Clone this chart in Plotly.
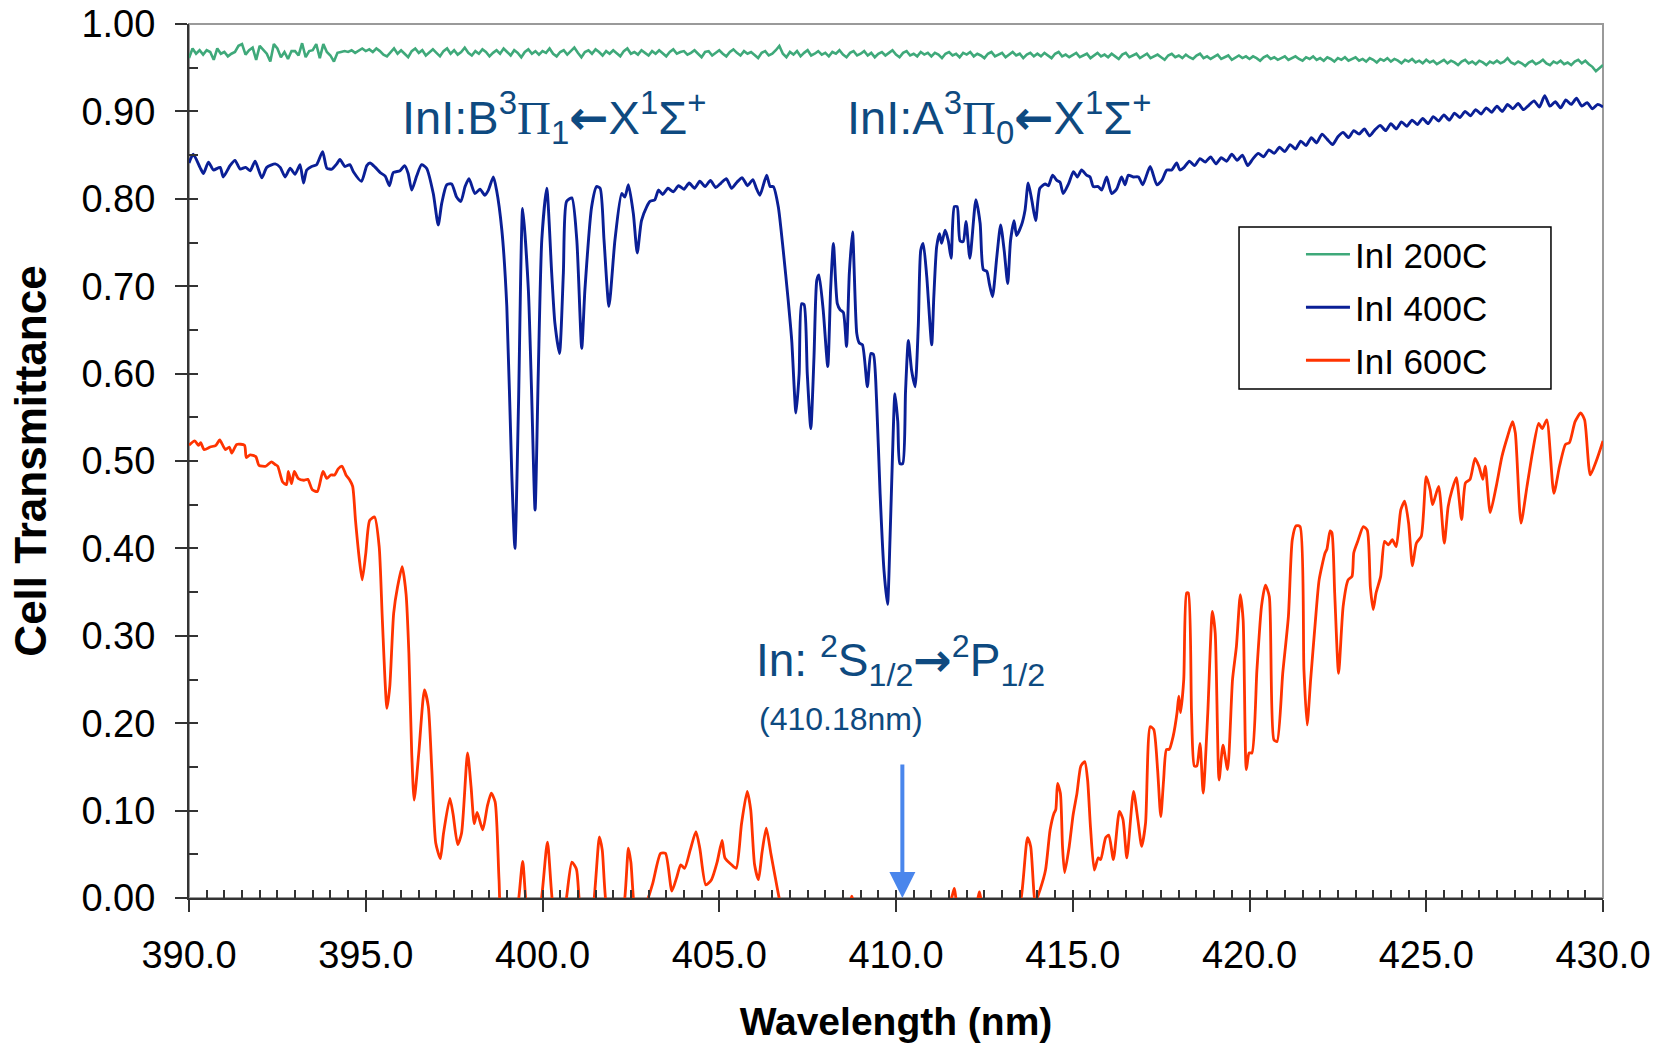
import numpy as np
import plotly.graph_objects as go

# ---------------- data ----------------
green_wl = np.round(np.arange(390.0, 430.05, 0.1), 1)
green_T = [
    0.961, 0.972, 0.966, 0.970, 0.965, 0.970, 0.968, 0.959, 0.972, 0.966,
    0.968, 0.963, 0.966, 0.968, 0.975, 0.977, 0.965, 0.970, 0.973, 0.959,
    0.975, 0.970, 0.966, 0.957, 0.977, 0.972, 0.962, 0.968, 0.960, 0.969,
    0.969, 0.964, 0.978, 0.962, 0.969, 0.970, 0.977, 0.961, 0.977, 0.968,
    0.964, 0.957, 0.967, 0.968, 0.969, 0.968, 0.970, 0.967, 0.970, 0.972,
    0.969, 0.971, 0.968, 0.972, 0.969, 0.965, 0.963, 0.968, 0.972, 0.966,
    0.970, 0.966, 0.962, 0.969, 0.972, 0.967, 0.970, 0.964, 0.968, 0.971,
    0.967, 0.963, 0.969, 0.972, 0.966, 0.970, 0.965, 0.968, 0.973, 0.967,
    0.964, 0.969, 0.966, 0.971, 0.968, 0.963, 0.967, 0.970, 0.966, 0.972,
    0.968, 0.964, 0.970, 0.967, 0.962, 0.968, 0.971, 0.966, 0.969, 0.965,
    0.969, 0.967, 0.972, 0.966, 0.963, 0.968, 0.970, 0.965, 0.969, 0.973,
    0.967, 0.962, 0.968, 0.970, 0.966, 0.971, 0.968, 0.964, 0.969, 0.966,
    0.970, 0.967, 0.963, 0.969, 0.972, 0.966, 0.968, 0.965, 0.970, 0.967,
    0.964, 0.969, 0.966, 0.970, 0.967, 0.963, 0.968, 0.971, 0.966, 0.968,
    0.969, 0.965, 0.967, 0.970, 0.966, 0.962, 0.968, 0.969, 0.964, 0.967,
    0.970, 0.966, 0.963, 0.968, 0.971, 0.967, 0.964, 0.969, 0.966, 0.968,
    0.965, 0.961, 0.967, 0.969, 0.964, 0.966, 0.970, 0.975, 0.966, 0.962,
    0.968, 0.965, 0.969, 0.963, 0.967, 0.970, 0.964, 0.966, 0.969, 0.965,
    0.967, 0.963, 0.968, 0.966, 0.970, 0.965, 0.962, 0.967, 0.969, 0.964,
    0.966, 0.969, 0.964, 0.967, 0.962, 0.966, 0.968, 0.964, 0.967, 0.970,
    0.965, 0.962, 0.967, 0.969, 0.964, 0.966, 0.963, 0.968, 0.965, 0.967,
    0.963, 0.967, 0.965, 0.961, 0.966, 0.968, 0.964, 0.966, 0.962, 0.967,
    0.965, 0.968, 0.963, 0.966, 0.964, 0.961, 0.966, 0.968, 0.963, 0.965,
    0.967, 0.962, 0.965, 0.968, 0.964, 0.966, 0.961, 0.965, 0.967, 0.963,
    0.966, 0.963, 0.967, 0.964, 0.961, 0.966, 0.968, 0.963, 0.965, 0.962,
    0.965, 0.967, 0.962, 0.964, 0.966, 0.961, 0.964, 0.967, 0.963, 0.965,
    0.962, 0.966, 0.963, 0.960, 0.965, 0.967, 0.962, 0.964, 0.966, 0.961,
    0.964, 0.966, 0.961, 0.963, 0.965, 0.962, 0.959, 0.964, 0.966, 0.962,
    0.964, 0.961, 0.965, 0.962, 0.960, 0.964, 0.966, 0.961, 0.963, 0.960,
    0.963, 0.965, 0.960, 0.962, 0.964, 0.959, 0.962, 0.964, 0.961, 0.963,
    0.960, 0.963, 0.961, 0.958, 0.962, 0.964, 0.960, 0.962, 0.959, 0.961,
    0.963, 0.959, 0.961, 0.963, 0.960, 0.958, 0.962, 0.960, 0.963, 0.959,
    0.961, 0.958, 0.962, 0.960, 0.957, 0.961, 0.959, 0.962, 0.958, 0.960,
    0.962, 0.958, 0.960, 0.957, 0.961, 0.959, 0.956, 0.960, 0.958, 0.961,
    0.957, 0.960, 0.958, 0.955, 0.959, 0.957, 0.960, 0.956, 0.958, 0.955,
    0.959, 0.956, 0.958, 0.954, 0.957, 0.959, 0.955, 0.958, 0.956, 0.953,
    0.957, 0.959, 0.955, 0.957, 0.954, 0.958, 0.956, 0.953, 0.957, 0.955,
    0.958, 0.955, 0.957, 0.961, 0.956, 0.954, 0.957, 0.955, 0.952, 0.956,
    0.958, 0.954, 0.956, 0.959, 0.955, 0.953, 0.957, 0.955, 0.958, 0.954,
    0.956, 0.953, 0.957, 0.959, 0.955, 0.958, 0.954, 0.951, 0.946, 0.950,
    0.953,
]

blue_wl_a = [390.0, 390.12, 390.31, 390.41, 390.55, 390.69, 390.88, 390.97, 391.16, 391.3,
             391.45, 391.6, 391.73, 391.87, 392.06, 392.2, 392.44, 392.58, 392.72, 392.86,
             393.0, 393.14, 393.24, 393.33, 393.47, 393.61, 393.78, 393.9, 394.04, 394.18,
             394.27, 394.41, 394.55, 394.65, 394.88, 395.03, 395.12, 395.27, 395.41, 395.55,
             395.67, 395.78, 395.97, 396.1, 396.2, 396.3, 396.44]
blue_T_a = [0.841, 0.851, 0.836, 0.829, 0.842, 0.833, 0.836, 0.825, 0.838, 0.844,
            0.834, 0.836, 0.832, 0.843, 0.824, 0.836, 0.840, 0.836, 0.825, 0.835,
            0.828, 0.839, 0.818, 0.833, 0.837, 0.839, 0.854, 0.835, 0.834, 0.840,
            0.845, 0.837, 0.839, 0.831, 0.820, 0.838, 0.841, 0.836, 0.830, 0.826,
            0.815, 0.830, 0.832, 0.838, 0.829, 0.810, 0.826]

blue_wl_b = [396.58, 396.72, 396.91, 397.05, 397.15, 397.29, 397.43, 397.57, 397.69, 397.81,
             397.92, 398.09, 398.23, 398.37, 398.47, 398.61, 398.7, 398.85, 398.99, 399.13,
             399.22, 399.32, 399.44, 399.6, 399.69, 399.79, 399.88, 399.98, 400.12, 400.26,
             400.35, 400.48, 400.59, 400.68, 400.83, 400.97, 401.11, 401.2, 401.39, 401.53,
             401.63, 401.74, 401.88, 402.05, 402.24, 402.33, 402.43, 402.57, 402.68, 402.8,
             402.95, 403.04, 403.18, 403.28]
blue_T_b = [0.839, 0.835, 0.806, 0.770, 0.795, 0.816, 0.817, 0.802, 0.797, 0.814,
            0.823, 0.806, 0.811, 0.804, 0.810, 0.825, 0.810, 0.764, 0.677, 0.486,
            0.400, 0.562, 0.789, 0.696, 0.581, 0.444, 0.600, 0.753, 0.812, 0.715,
            0.658, 0.623, 0.715, 0.797, 0.801, 0.753, 0.629, 0.696, 0.791, 0.814,
            0.812, 0.753, 0.677, 0.753, 0.806, 0.802, 0.816, 0.783, 0.738, 0.775,
            0.791, 0.797, 0.799, 0.810]

blue_wl_c = [403.4, 403.55, 403.7, 403.85, 404.0, 404.15, 404.3, 404.45, 404.6, 404.75,
             404.9, 405.05, 405.2, 405.35, 405.5, 405.65, 405.8, 405.95, 406.05]
blue_T_c = [0.805, 0.812, 0.808, 0.815, 0.811, 0.818, 0.812, 0.820, 0.814, 0.821,
            0.813, 0.818, 0.823, 0.812, 0.819, 0.824, 0.815, 0.822, 0.812]

blue_wl_d = [406.15, 406.34, 406.44, 406.53, 406.67, 406.81, 406.95, 407.05, 407.17, 407.26,
             407.33, 407.4, 407.49, 407.59, 407.68, 407.76, 407.82, 407.94, 408.07, 408.15,
             408.23, 408.34, 408.42, 408.51, 408.6, 408.68, 408.77, 408.89, 408.96, 409.05,
             409.19, 409.29, 409.36, 409.45, 409.55, 409.66, 409.76, 409.83, 409.9, 409.97,
             410.05, 410.11, 410.19, 410.27, 410.35, 410.44, 410.54, 410.63, 410.7, 410.77,
             410.87, 411.01, 411.07, 411.15, 411.23, 411.29, 411.39, 411.48, 411.56, 411.65,
             411.73, 411.81, 411.9, 411.98, 412.09, 412.26, 412.38, 412.47, 412.57, 412.64,
             412.73, 412.85, 412.96, 413.06, 413.16, 413.24, 413.34, 413.41, 413.55, 413.65,
             413.74, 413.84, 413.95, 414.07, 414.22, 414.31, 414.43, 414.55, 414.64, 414.73,
             414.88, 415.02, 415.13, 415.25, 415.39, 415.49, 415.58, 415.72, 415.82, 415.96,
             416.1, 416.24, 416.38, 416.48, 416.57, 416.71, 416.86, 416.98, 417.19, 417.38,
             417.52, 417.66, 417.8, 417.94, 418.03]
blue_T_d = [0.804, 0.827, 0.814, 0.814, 0.791, 0.741, 0.684, 0.638, 0.555, 0.600,
            0.680, 0.679, 0.600, 0.537, 0.619, 0.707, 0.713, 0.673, 0.608, 0.696,
            0.749, 0.680, 0.673, 0.670, 0.631, 0.715, 0.762, 0.646, 0.635, 0.633,
            0.585, 0.623, 0.622, 0.570, 0.463, 0.375, 0.336, 0.410, 0.505, 0.577,
            0.545, 0.497, 0.497, 0.580, 0.638, 0.604, 0.585, 0.654, 0.741, 0.749,
            0.711, 0.633, 0.688, 0.745, 0.760, 0.749, 0.764, 0.752, 0.732, 0.791,
            0.791, 0.752, 0.751, 0.774, 0.732, 0.799, 0.772, 0.719, 0.717, 0.703,
            0.688, 0.733, 0.770, 0.741, 0.703, 0.752, 0.775, 0.758, 0.770, 0.787,
            0.818, 0.799, 0.775, 0.812, 0.817, 0.815, 0.827, 0.821, 0.819, 0.806,
            0.817, 0.831, 0.825, 0.833, 0.827, 0.825, 0.814, 0.814, 0.810, 0.825,
            0.806, 0.811, 0.825, 0.816, 0.827, 0.825, 0.825, 0.816, 0.837, 0.816,
            0.821, 0.833, 0.833, 0.841, 0.833]

blue_wl_e = [418.15, 418.3, 418.45, 418.6, 418.75, 418.9, 419.05, 419.2, 419.35, 419.5,
             419.65, 419.8, 419.95, 420.1, 420.25, 420.4, 420.55, 420.7, 420.85, 421.0,
             421.15, 421.3, 421.45, 421.6, 421.75, 421.9, 422.05, 422.2, 422.35, 422.5,
             422.65, 422.8, 422.95, 423.1, 423.25, 423.4, 423.55, 423.7, 423.85, 424.0,
             424.15, 424.3, 424.45, 424.6, 424.75, 424.9, 425.05, 425.2, 425.35, 425.5,
             425.65, 425.8, 425.95, 426.1, 426.25, 426.4, 426.55, 426.7, 426.85, 427.0,
             427.15, 427.3, 427.45, 427.6, 427.75, 427.9, 428.05, 428.2, 428.35, 428.5,
             428.65, 428.8, 428.95, 429.1, 429.25, 429.4, 429.55, 429.7, 429.85, 430.0]
blue_T_e = [0.836, 0.843, 0.838, 0.846, 0.842, 0.848, 0.840, 0.847, 0.843, 0.851,
            0.844, 0.850, 0.838, 0.846, 0.852, 0.848, 0.856, 0.852, 0.859, 0.854,
            0.862, 0.857, 0.866, 0.861, 0.870, 0.864, 0.874, 0.868, 0.862, 0.871,
            0.876, 0.870, 0.878, 0.874, 0.880, 0.872, 0.879, 0.884, 0.878, 0.886,
            0.880, 0.888, 0.883, 0.890, 0.885, 0.892, 0.886, 0.894, 0.889, 0.896,
            0.890, 0.898, 0.893, 0.900, 0.895, 0.902, 0.897, 0.904, 0.899, 0.906,
            0.900, 0.908, 0.903, 0.909, 0.902, 0.907, 0.912, 0.905, 0.918, 0.906,
            0.911, 0.904, 0.913, 0.908, 0.915, 0.906, 0.910, 0.903, 0.908, 0.905]

red_wl = [390.0, 390.16, 390.27, 390.33, 390.43, 390.6, 390.76, 390.87, 391.03, 391.14,
          391.21, 391.35, 391.57, 391.62, 391.73, 391.89, 391.98, 392.17, 392.33, 392.44,
          392.51, 392.65, 392.76, 392.81, 392.9, 392.98, 393.09, 393.25, 393.36, 393.49,
          393.63, 393.79, 393.9, 394.01, 394.12, 394.22, 394.33, 394.44, 394.55, 394.63,
          394.71, 394.82, 394.9, 395.0, 395.11, 395.25, 395.38, 395.47, 395.6, 395.68,
          395.79, 395.9, 396.03, 396.14, 396.22, 396.3, 396.37, 396.5, 396.66, 396.77,
          396.87, 396.98, 397.11, 397.2, 397.38, 397.47, 397.6, 397.71, 397.88, 397.98,
          398.07, 398.15, 398.31, 398.44, 398.55, 398.66, 398.77, 398.85, 399.1, 399.3,
          399.44, 399.58, 399.75, 399.94, 400.14, 400.33, 400.5, 400.66, 400.83, 400.96,
          401.1, 401.35, 401.61, 401.69, 401.85, 402.1, 402.3, 402.43, 402.5, 402.65,
          402.94, 403.12, 403.34, 403.48, 403.66, 403.8, 403.91, 404.02, 404.18, 404.34,
          404.45, 404.62, 404.78, 404.94, 405.08, 405.16, 405.35, 405.48, 405.63, 405.79,
          405.89, 406.0, 406.11, 406.21, 406.33, 406.46, 406.56, 406.75, 407.2, 407.8,
          408.3, 408.7, 408.75, 408.8, 409.3, 410.0, 410.8, 411.4, 411.6, 411.65,
          411.75, 412.1, 412.3, 412.36, 412.42, 412.8, 413.3, 413.54, 413.72, 413.81,
          413.94, 414.08, 414.23, 414.36, 414.47, 414.52, 414.57, 414.65, 414.71, 414.77,
          414.9, 415.01, 415.12, 415.23, 415.34, 415.42, 415.5, 415.61, 415.72, 415.79,
          415.93, 416.02, 416.15, 416.32, 416.42, 416.53, 416.72, 416.84, 416.95, 417.06,
          417.19, 417.29, 417.4, 417.49, 417.57, 417.65, 417.73, 417.84, 417.95, 418.0,
          418.05, 418.14, 418.22, 418.27, 418.36, 418.44, 418.51, 418.6, 418.69, 418.82,
          418.95, 419.03, 419.14, 419.25, 419.38, 419.52, 419.63, 419.74, 419.82, 419.91,
          419.99, 420.07, 420.21, 420.34, 420.45, 420.56, 420.69, 420.78, 420.94, 421.1,
          421.21, 421.32, 421.43, 421.54, 421.63, 421.73, 421.86, 421.97, 422.14, 422.19,
          422.28, 422.33, 422.41, 422.52, 422.65, 422.79, 422.9, 422.95, 423.06, 423.22,
          423.33, 423.42, 423.5, 423.58, 423.71, 423.82, 423.93, 424.04, 424.15, 424.28,
          424.39, 424.5, 424.61, 424.72, 424.86, 425.0, 425.11, 425.18, 425.35, 425.51,
          425.62, 425.73, 425.85, 426.0, 426.11, 426.24, 426.38, 426.49, 426.6, 426.67,
          426.81, 426.98, 427.14, 427.3, 427.44, 427.52, 427.68, 427.85, 428.01, 428.18,
          428.28, 428.41, 428.61, 428.77, 428.94, 429.05, 429.21, 429.37, 429.48, 429.64,
          429.81, 430.0]
red_T = [0.518, 0.523, 0.518, 0.521, 0.513, 0.516, 0.518, 0.524, 0.513, 0.516,
         0.509, 0.519, 0.518, 0.504, 0.507, 0.505, 0.495, 0.494, 0.499, 0.496,
         0.494, 0.476, 0.473, 0.488, 0.474, 0.488, 0.480, 0.478, 0.479, 0.467,
         0.465, 0.488, 0.480, 0.484, 0.484, 0.491, 0.494, 0.484, 0.478, 0.471,
         0.432, 0.387, 0.364, 0.394, 0.432, 0.436, 0.402, 0.318, 0.217, 0.242,
         0.326, 0.356, 0.379, 0.348, 0.280, 0.166, 0.112, 0.166, 0.238, 0.219,
         0.146, 0.063, 0.045, 0.074, 0.114, 0.096, 0.061, 0.074, 0.166, 0.127,
         0.085, 0.098, 0.078, 0.105, 0.120, 0.110, 0.021, -0.030, -0.040, -0.010,
         0.042, -0.020, -0.030, -0.010, 0.064, -0.020, -0.030, -0.005, 0.041, 0.033,
         -0.020, -0.030, 0.070, 0.055, -0.020, -0.030, -0.010, 0.057, 0.041, -0.020,
         -0.005, 0.017, 0.051, 0.051, 0.008, 0.024, 0.038, 0.034, 0.055, 0.076,
         0.057, 0.015, 0.021, 0.041, 0.066, 0.046, 0.038, 0.034, 0.085, 0.122,
         0.101, 0.038, 0.021, 0.052, 0.080, 0.051, 0.029, -0.010, -0.060, -0.070,
         -0.040, -0.005, 0.002, -0.005, -0.050, -0.070, -0.050, -0.020, 0.004, 0.011,
         -0.010, -0.020, -0.003, 0.007, -0.005, -0.040, -0.030, 0.000, 0.069, 0.059,
         -0.005, 0.010, 0.032, 0.078, 0.097, 0.101, 0.131, 0.120, 0.059, 0.029,
         0.059, 0.095, 0.120, 0.151, 0.156, 0.135, 0.082, 0.032, 0.046, 0.044,
         0.069, 0.072, 0.044, 0.099, 0.090, 0.046, 0.122, 0.090, 0.059, 0.086,
         0.196, 0.193, 0.147, 0.093, 0.135, 0.170, 0.170, 0.185, 0.212, 0.231,
         0.212, 0.250, 0.349, 0.349, 0.212, 0.151, 0.151, 0.177, 0.120, 0.212,
         0.328, 0.303, 0.135, 0.175, 0.147, 0.250, 0.288, 0.347, 0.318, 0.147,
         0.166, 0.166, 0.261, 0.334, 0.358, 0.345, 0.181, 0.179, 0.257, 0.322,
         0.410, 0.426, 0.425, 0.261, 0.198, 0.250, 0.315, 0.364, 0.395, 0.399,
         0.420, 0.418, 0.349, 0.257, 0.334, 0.364, 0.368, 0.395, 0.408, 0.425,
         0.421, 0.355, 0.330, 0.349, 0.368, 0.408, 0.404, 0.410, 0.402, 0.444,
         0.454, 0.429, 0.380, 0.406, 0.414, 0.482, 0.467, 0.450, 0.471, 0.406,
         0.448, 0.467, 0.481, 0.433, 0.475, 0.479, 0.503, 0.494, 0.479, 0.494,
         0.441, 0.471, 0.505, 0.528, 0.545, 0.532, 0.429, 0.471, 0.511, 0.543,
         0.537, 0.547, 0.463, 0.494, 0.519, 0.521, 0.545, 0.555, 0.547, 0.484,
         0.500, 0.523]

series_names = ["InI 200C", "InI 400C", "InI 600C"]
y_ticks = [0.0, 0.1, 0.2, 0.3, 0.4, 0.5, 0.6, 0.7, 0.8, 0.9, 1.0]
x_ticks = [390, 395, 400, 405, 410, 415, 420, 425, 430]

blue_wl = blue_wl_a + blue_wl_b + blue_wl_c + blue_wl_d + blue_wl_e
blue_T = blue_T_a + blue_T_b + blue_T_c + blue_T_d + blue_T_e
assert len(blue_wl) == len(blue_T)
assert len(red_wl) == len(red_T)
assert len(green_wl) == len(green_T)

# ---------------- style ----------------
GREEN = "#3FA97A"
BLUE = "#0A1F96"
RED = "#FF3300"
ANN = "#0E4A80"
ARROW = "#4A86EC"
FONT = "Liberation Sans, Arial, sans-serif"
PI = '<span style="font-family:Liberation Serif">Π</span>'
LARR = '<span style="font-family:DejaVu Sans;font-weight:bold">←</span>'
RARR = '<span style="font-family:DejaVu Sans;font-weight:bold">→</span>'

fig = go.Figure()
for name, xs, ys, col, grp, shape, w in [
    (series_names[0], green_wl, green_T, GREEN, "g1", "linear", 2.6),
    (series_names[1], blue_wl, blue_T, BLUE, "g2", "spline", 2.9),
    (series_names[2], red_wl, red_T, RED, "g3", "spline", 2.8),
]:
    fig.add_trace(go.Scatter(x=xs, y=ys, mode="lines", name=name, legendgroup=grp,
                             line=dict(color=col, width=w, shape=shape, smoothing=0.6)))

# helper trace for the inner (minor) tick axes
fig.add_trace(go.Scatter(x=[None], y=[None], xaxis="x2", yaxis="y2",
                         showlegend=False, hoverinfo="skip"))

fig.update_layout(
    width=1661, height=1045,
    margin=dict(l=189, r=58, t=24, b=147, autoexpand=False),
    paper_bgcolor="white", plot_bgcolor="white",
    font=dict(family=FONT, color="black"),
    showlegend=True,
    xaxis=dict(range=[390, 430], tickvals=x_ticks, ticktext=[f"{v:.1f}" for v in x_ticks],
               ticks="outside", ticklen=12, tickwidth=1.5, tickcolor="#333333",
               showline=True, linecolor="#333333", linewidth=2, automargin=False,
               showgrid=False, zeroline=False, tickfont=dict(size=38),
               ticklabelstandoff=10,
               title=dict(text="Wavelength (nm)", font=dict(size=39, weight="bold"),
                          standoff=33)),
    xaxis2=dict(overlaying="x", anchor="y", side="bottom", range=[390, 430],
                tick0=390, dtick=0.5, ticks="inside", ticklen=8, tickwidth=1.5,
                tickcolor="#333333", showticklabels=False, showline=False,
                showgrid=False, zeroline=False, automargin=False),
    yaxis=dict(range=[0, 1], tickvals=y_ticks, ticktext=[f"{v:.2f}" for v in y_ticks],
               ticks="outside", ticklen=12, tickwidth=1.5, tickcolor="#333333",
               showline=True, linecolor="#333333", linewidth=2, automargin=False,
               showgrid=False, zeroline=False, tickfont=dict(size=38),
               ticklabelstandoff=12,
               title=dict(text="Cell Transmittance", font=dict(size=44, weight="bold"),
                          standoff=21)),
    yaxis2=dict(overlaying="y", anchor="x", side="left", range=[0, 1],
                tick0=0, dtick=0.05, ticks="inside", ticklen=9, tickwidth=1.5,
                tickcolor="#333333", showticklabels=False, showline=False,
                showgrid=False, zeroline=False, automargin=False),
    legend=dict(x=0.7864, y=0.770, xanchor="left", yanchor="top",
                bgcolor="rgba(0,0,0,0)", borderwidth=0,
                font=dict(size=35, family=FONT, color="black"),
                traceorder="grouped", tracegroupgap=4.5, itemwidth=44),
    shapes=[
        dict(type="rect", xref="paper", yref="paper", x0=0, x1=1, y0=0, y1=1,
             line=dict(color="#9A9A9A", width=2), layer="below"),
        dict(type="rect", xref="paper", yref="paper", x0=0.7426, x1=0.9632,
             y0=0.5824, y1=0.7677, line=dict(color="black", width=1.5),
             fillcolor="white", layer="above"),
    ],
    annotations=[
        dict(x=400.33, y=0.893, xref="x", yref="y", showarrow=False,
             text=f"InI:B<sup>3</sup>{PI}<sub>1</sub>{LARR}X<sup>1</sup>Σ<sup>+</sup>",
             font=dict(size=47, color=ANN, family=FONT)),
        dict(x=412.93, y=0.893, xref="x", yref="y", showarrow=False,
             text=f"InI:A<sup>3</sup>{PI}<sub>0</sub>{LARR}X<sup>1</sup>Σ<sup>+</sup>",
             font=dict(size=47, color=ANN, family=FONT)),
        dict(x=410.12, y=0.272, xref="x", yref="y", showarrow=False,
             text=f"In: <sup>2</sup>S<sub>1/2</sub>{RARR}<sup>2</sup>P<sub>1/2</sub>",
             font=dict(size=46, color=ANN, family=FONT)),
        dict(x=408.44, y=0.205, xref="x", yref="y", showarrow=False,
             text="(410.18nm)", font=dict(size=32, color=ANN, family=FONT)),
        dict(x=410.18, y=0, xref="x", yref="y", ax=0, ay=-135, text="",
             showarrow=True, arrowhead=2, arrowsize=1.3, arrowwidth=4,
             arrowcolor=ARROW, standoff=0),
    ],
)

fig.write_html("out.html")
